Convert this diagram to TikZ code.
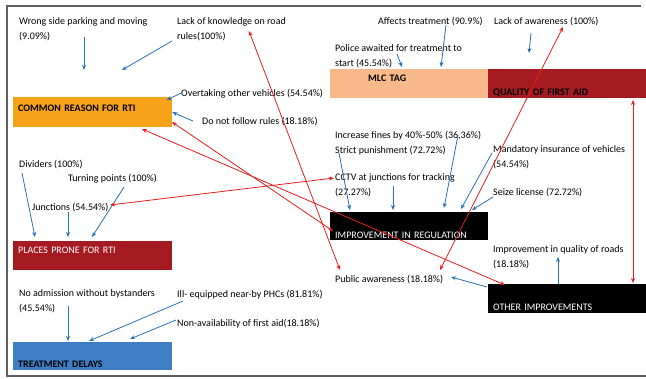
\documentclass[tikz,border=0pt]{standalone}
\usepackage{fontspec}
\setmainfont{Carlito}
\usetikzlibrary{arrows.meta, positioning}

\definecolor{rtiorange}{RGB}{246,163,26}
\definecolor{rtired}{RGB}{166,27,34}
\definecolor{mlcpeach}{RGB}{248,185,138}
\definecolor{delayblue}{RGB}{62,126,196}
\definecolor{linkblue}{RGB}{40,112,184}
\definecolor{linkred}{RGB}{232,28,28}
\definecolor{framegray}{RGB}{95,95,95}

\begin{document}
\begin{tikzpicture}[
    x=1pt, y=-1pt,
    font=\fontsize{10}{14.5}\selectfont,
    txt/.style={anchor=base west, inner sep=0pt, align=left},
    heading/.style={anchor=north west, inner xsep=5pt, inner ysep=0pt, text width=149pt, align=left, font=\fontsize{10}{12}\selectfont\bfseries},
    darkheading/.style={heading, text=white, font=\fontsize{10}{12}\selectfont},
    bluearrow/.style={-{Stealth[length=5pt,width=4pt]}, line width=0.8pt, linkblue},
    redarrow/.style={{Stealth[length=5pt,width=4pt]}-{Stealth[length=5pt,width=4pt]}, line width=0.8pt, linkred},
]
    \useasboundingbox (0,0) rectangle (646,378);
    \draw[framegray, line width=1.6pt] (641,6) -- (7,6) -- (7,376) -- (646,376);

    % boxes
    \node[heading, fill=rtiorange, text height=14pt, text depth=16pt] (common) at (13,97) {COMMON REASON FOR RTI};
    \node[darkheading, fill=rtired, text height=12pt, text depth=17pt] (places) at (13,241) {PLACES PRONE FOR RTI};
    \node[heading, fill=delayblue, text height=25pt, text depth=3pt] (treatment) at (13,342) {TREATMENT DELAYS};
    \node[heading, fill=mlcpeach, inner xsep=38pt, text width=82pt, text height=12pt, text depth=17pt] (mlc) at (330,69) {MLC TAG};
    \node[heading, fill=rtired, text width=148pt, text height=26pt, text depth=3pt] (quality) at (488,69) {QUALITY OF FIRST AID};
    \node[darkheading, fill=black, text width=148pt, text height=26pt, text depth=2pt] (regulation) at (330,212) {IMPROVEMENT IN REGULATION};
    \node[darkheading, fill=black, text width=148pt, text height=26pt, text depth=3pt] (other) at (488,284) {OTHER IMPROVEMENTS};

    % labels (two-line ones sit on their last line)
    \node[txt] (wrong) at (19,39) {Wrong side parking and moving\\(9.09\%)};
    \node[txt] (knowledge) at (177,39) {Lack of knowledge on road\\rules(100\%)};
    \node[txt] (overtake) at (181,96) {Overtaking other vehicles (54.54\%)};
    \node[txt] (rules) at (202,124) {Do not follow rules (18.18\%)};
    \node[txt] (dividers) at (19,167) {Dividers (100\%)};
    \node[txt] (turning) at (68,181) {Turning points (100\%)};
    \node[txt] (junctions) at (32,210) {Junctions (54.54\%)};
    \node[txt] (bystanders) at (19,311) {No admission without bystanders\\(45.54\%)};
    \node[txt] (phc) at (177,297) {Ill- equipped near-by PHCs (81.81\%)};
    \node[txt] (firstaid) at (177,326) {Non-availability of first aid(18.18\%)};
    \node[txt] (affects) at (378,24) {Affects treatment (90.9\%)};
    \node[txt] (awareness) at (494,24) {Lack of awareness (100\%)};
    \node[txt] (police) at (335,66) {Police awaited for treatment to\\start (45.54\%)};
    \node[txt] (fines) at (335,138) {Increase fines by 40\%-50\% (36,36\%)};
    \node[txt] (punish) at (335,153) {Strict punishment (72.72\%)};
    \node[txt] (cctv) at (335,195) {CCTV at junctions for tracking\\(27.27\%)};
    \node[txt] (insurance) at (493,167) {Mandatory insurance of vehicles\\(54.54\%)};
    \node[txt] (seize) at (493,195) {Seize license (72.72\%)};
    \node[txt] (roads) at (493,267) {Improvement in quality of roads\\(18.18\%)};
    \node[txt] (public) at (335,282) {Public awareness (18.18\%)};

    % blue links
    \draw[bluearrow] ([shift={(65,-2)}]wrong.base west) -- ([shift={(71,-27)}]common.north west);
    \draw[bluearrow] ([shift={(-5,2)}]knowledge.base west) -- ([shift={(109,-27)}]common.north west);
    \draw[bluearrow] (overtake.west) -- ([shift={(-6,3)}]common.north east);
    \draw[bluearrow] ([shift={(-9,0)}]rules.west) -- (common.east);
    \draw[bluearrow] ([shift={(3,6)}]dividers.base west) -- ([shift={(22,-4)}]places.north west);
    \draw[bluearrow] ([shift={(36,2)}]junctions.base west) -- ([shift={(55,-4)}]places.north west);
    \draw[bluearrow] ([shift={(56,6)}]turning.base west) -- ([shift={(79,-4)}]places.north west);
    \draw[bluearrow] ([shift={(49,-5)}]bystanders.base west) -- ([shift={(55,-1)}]treatment.north west);
    \draw[bluearrow] ([shift={(6,4)}]phc.base west) -- ([shift={(76,-1)}]treatment.north west);
    \draw[bluearrow] ([shift={(-1,-6)}]firstaid.base west) -- ([shift={(117,-3)}]treatment.north west);
    \draw[bluearrow] ([shift={(68,1)}]affects.base west) -- ([shift={(111,-2)}]mlc.north west);
    \draw[bluearrow] ([shift={(62,-12)}]police.base west) -- ([shift={(72,-2)}]mlc.north west);
    \draw[bluearrow] ([shift={(37,9)}]awareness.base west) -- ([shift={(41,-16)}]quality.north west);
    \draw[bluearrow] ([shift={(4,0)}]punish.base west) -- ([shift={(20,-2)}]regulation.north west);
    \draw[bluearrow] ([shift={(58,-9)}]cctv.base west) -- ([shift={(63,-2)}]regulation.north west);
    \draw[bluearrow] ([shift={(123,-3)}]fines.base west) -- ([shift={(114,-4)}]regulation.north west);
    \draw[bluearrow] ([shift={(-1,-14)}]insurance.base west) -- ([shift={(131,-3)}]regulation.north west);
    \draw[bluearrow] ([shift={(0,2)}]seize.base west) -- ([shift={(142,-2)}]regulation.north west);
    \draw[bluearrow] ([shift={(70,0)}]other.north west) -- ([shift={(65,-10)}]roads.base west);
    \draw[bluearrow] ([shift={(-1,3)}]other.north west) -- ([shift={(116,-5)}]public.base west);

    % red links
    \draw[redarrow] ([shift={(72,-8)}]knowledge.base west) -- ([shift={(5,-12)}]public.base west);
    \draw[redarrow] ([shift={(69,3)}]awareness.base west) -- ([shift={(105,-12)}]public.base west);
    \draw[redarrow] ([shift={(145,31)}]quality.north west) -- ([shift={(145,-1)}]other.north west);
    \draw[redarrow] ([shift={(78,-5)}]junctions.base west) -- ([shift={(-1,-17)}]cctv.base west);
    \draw[redarrow] ([shift={(159,25)}]common.north west) -- ([shift={(3,19)}]regulation.north west);
    \draw[redarrow] ([shift={(129,32)}]common.north west) -- ([shift={(17,1)}]other.north west);
\end{tikzpicture}
\end{document}
